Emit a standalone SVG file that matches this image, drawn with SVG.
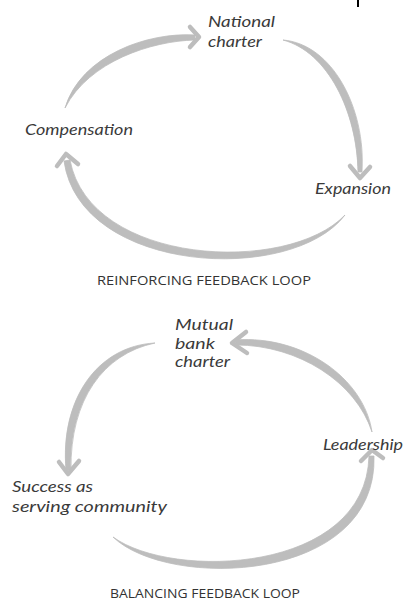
<svg xmlns="http://www.w3.org/2000/svg" width="407" height="607" viewBox="0 0 407 607">
<style>
.lbl{font-family:Lato,"Open Sans","DejaVu Sans",sans-serif;font-style:italic;font-size:16px;fill:#3a3a3a}
.sm{font-size:15px}
.ttl{font-family:"Open Sans","Liberation Sans",sans-serif;font-size:13.5px;fill:#333;text-anchor:middle}
.arc{fill:#bdbdbd;stroke:#bdbdbd;stroke-width:0.8;stroke-linejoin:round}
.head{fill:none;stroke:#bdbdbd;stroke-width:4.5;stroke-linecap:round;stroke-linejoin:round}
</style>
<rect width="407" height="607" fill="#fff"/>
<rect x="357" y="0" width="2" height="7" fill="#000"/>
<g id="connectors">
<path class="arc" d="M65,108 C81,55 148,32 195,35 L195,40 C152,41 89,61 65,108Z"/>
<polyline class="head" points="190,27 199,37 190,47"/>
<path class="arc" d="M283,40 C332,44 366,108 362,172 L358,172 C357,112 328,52 283,40Z"/>
<polyline class="head" points="350,166 360,178 370,167"/>
<path class="arc" d="M345,215 C292,285 80,274 64,161 L70,160 C90,266 288,275 345,215Z"/>
<polyline class="head" points="57,166 66,154 78,164"/>
<path class="arc" d="M155,343 C97,346 60,400 66,470 L71,470 C70,400 103,354 155,343Z"/>
<polyline class="head" points="59,462 68,474 79,461"/>
<path class="arc" d="M113,537 C168,590 378,584 374,456 L369,456 C366,574 172,580 113,537Z"/>
<polyline class="head" points="361,461 372,450 383,458"/>
<path class="arc" d="M372,432 C364,378 302,335 236,340 L236,345 C298,345 356,382 372,432Z"/>
<polyline class="head" points="246,332 232,343 247,353"/>
</g>
<g id="national-charter"><text class="lbl" x="208" y="27" textLength="67" lengthAdjust="spacingAndGlyphs">National</text><text class="lbl" x="208" y="47" textLength="54" lengthAdjust="spacingAndGlyphs">charter</text></g>
<g id="compensation"><text class="lbl" x="25" y="135" textLength="108" lengthAdjust="spacingAndGlyphs">Compensation</text></g>
<g id="expansion"><text class="lbl" x="315" y="194" textLength="76" lengthAdjust="spacingAndGlyphs">Expansion</text></g>
<g id="title-reinforcing"><text class="ttl" x="204" y="285" textLength="214" lengthAdjust="spacingAndGlyphs">REINFORCING FEEDBACK LOOP</text></g>
<g id="mutual-bank-charter"><text class="lbl sm" x="175" y="330" textLength="58" lengthAdjust="spacingAndGlyphs">Mutual</text><text class="lbl sm" x="175" y="348.5" textLength="40" lengthAdjust="spacingAndGlyphs">bank</text><text class="lbl sm" x="175" y="367" textLength="55" lengthAdjust="spacingAndGlyphs">charter</text></g>
<g id="leadership"><text class="lbl" x="323" y="450" textLength="80" lengthAdjust="spacingAndGlyphs">Leadership</text></g>
<g id="success"><text class="lbl" x="12" y="492" textLength="81" lengthAdjust="spacingAndGlyphs">Success as</text><text class="lbl" x="12" y="512" textLength="155" lengthAdjust="spacingAndGlyphs">serving community</text></g>
<g id="title-balancing"><text class="ttl" x="205" y="598" textLength="190" lengthAdjust="spacingAndGlyphs">BALANCING FEEDBACK LOOP</text></g>
</svg>
